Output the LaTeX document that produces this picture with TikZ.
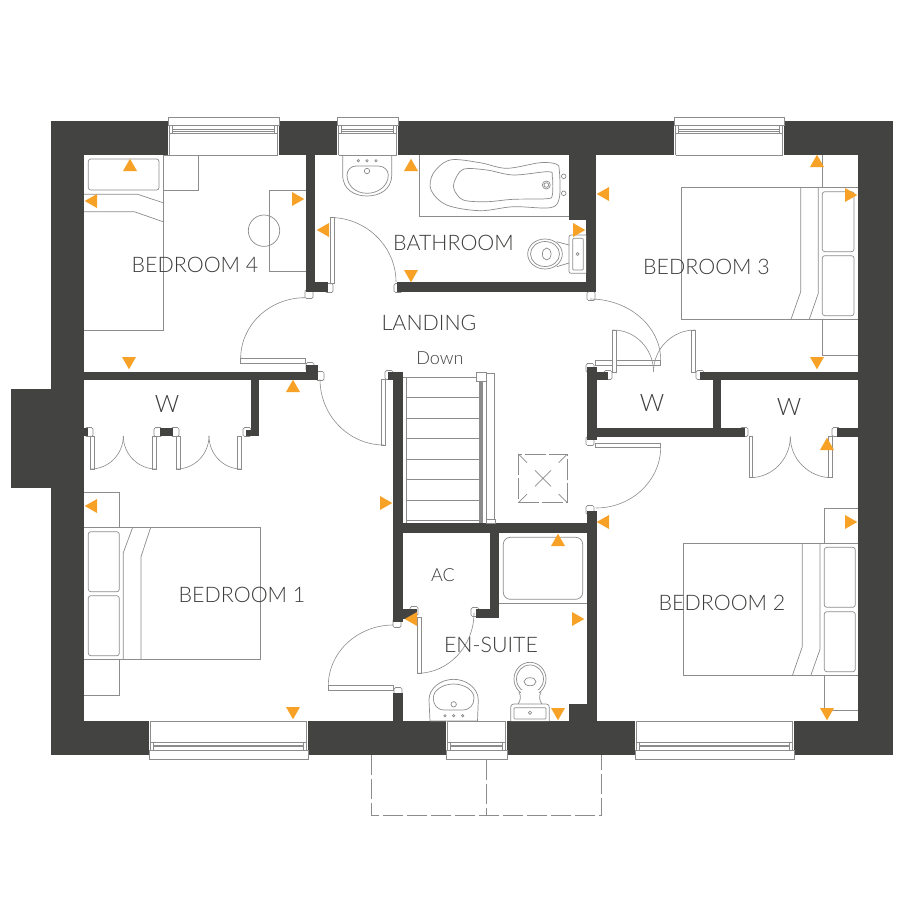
\documentclass[tikz,border=0pt]{standalone}
\usepackage{fontspec}
\setmainfont{Lato}[UprightFont=* Light]
\definecolor{wallgrey}{HTML}{434342}
\definecolor{linegrey}{HTML}{8C8C8C}
\definecolor{textgrey}{HTML}{3C3C3B}
\definecolor{sensororange}{HTML}{F7A226}
\tikzset{
  wall/.style={fill=wallgrey},
  fitting/.style={draw=linegrey,line width=0.7pt},
  leaf/.style={draw=linegrey,line width=0.7pt,fill=white},
  swingline/.style={draw=linegrey,line width=0.6pt},
  roomlabel/.style={text=textgrey,font=\fontsize{21.4}{24}\selectfont,inner sep=0pt},
  smalllabel/.style={text=textgrey,font=\fontsize{18}{21}\selectfont,inner sep=0pt},
  wardlabel/.style={text=textgrey,font=\fontsize{24}{27}\selectfont,inner sep=0pt},
}
% door swing: starts vertically at #1,#2 and ends horizontally at #3,#4
\newcommand{\swing}[4]{\draw[swingline] (#1,#2) .. controls ({#1},{#2+.55*(#4-#2)}) and ({#3-.55*(#3-#1)},{#4}) .. (#3,#4);}
% window: #1,#2 jambs, #3 inner face, #4 outward sign
\newcommand{\glazing}[4]{
\fill[white] (#1,#3) rectangle (#2,{#3+#4*38});
\draw[fitting] (#1+1.5,#3) -- (#1+1.5,{#3+#4*29.5});
\draw[fitting] (#2-1.5,#3) -- (#2-1.5,{#3+#4*29.5});
\draw[fitting] (#1+1.5,#3) -- (#2-1.5,#3);
\draw[fitting] (#1,{#3+#4*29.5}) rectangle (#2,{#3+#4*38});
\draw[fitting] (#1+1.5,{#3+#4*21.5}) rectangle (#2-1.5,{#3+#4*29.5});
\draw[fitting] (#1+4.5,{#3+#4*21.5}) -- (#1+4.5,{#3+#4*29.5});
\draw[fitting] (#2-4.5,{#3+#4*21.5}) -- (#2-4.5,{#3+#4*29.5});
\draw[fitting] (#1+4.5,{#3+#4*24}) -- (#2-4.5,{#3+#4*24});
\draw[fitting] (#1+4.5,{#3+#4*25.5}) -- (#2-4.5,{#3+#4*25.5});
}
\begin{document}
\begin{tikzpicture}[x=1pt,y=-1pt]
\useasboundingbox (0,0) rectangle (900,900);
\fill[white] (0,0) rectangle (900,900);
% shell
\fill[wall] (51,121) rectangle (893,755);
\fill[wall] (11,388.5) rectangle (51,487.5);
\fill[white] (84,155) rectangle (858,721);
% door frames
\foreach \x/\y in {309/294,329/288,310/367,320/376,398/288,591/296,389/375,590/368,590/441,590/510,
  397/623,414/611,475/612,398/692,608/375,700/375,744/432,836/432,
  89/432,158/432,175/432,247/432}
  \draw[leaf,rounded corners=1.5pt] (\x-4,\y-4.5) rectangle (\x+4,\y+4.5);
% partitions
\foreach \xa/\ya/\xb/\yb in {305.7/155/315/292,305.7/282/328/292,84/372/318/380,305.7/365/318/380,
  250.7/380/259.3/436,245.7/429.5/259.3/436,396.7/282/596/292,586/155/596/292,568.7/155/586/220,
  393.3/372/403.3/622,388/372/393.3/380,586.7/367/596.7/440,596/372/608/380,586.7/428/745/437,
  700/372/858/380,712.7/380/721/428,836.7/428/858/437,393/523.3/587/532.7,586.7/511/596.5/721,
  393/609/417/619,490/532/499.3/618,476/609/499.3/618,393/693/403/721,569/704/587/721,
  160/428/172.7/436,84/428/88/436}
  \fill[wall] (\xa,\ya) rectangle (\xb,\yb);
% windows
\glazing{168}{279}{155}{-1}
\glazing{337}{398}{155}{-1}
\glazing{674}{784}{155}{-1}
\glazing{149}{308}{721}{1}
\glazing{446}{507}{721}{1}
\glazing{635}{794}{721}{1}
% door leaves and swings
\foreach \xa/\ya/\xb/\yb in {240.3/358.3/305.7/363.3,330/217.5/334/283,381.7/379.3/385.7/445,
  595/360/660.7/365,612.7/330/616.5/372,691.7/330/695.7/372,749.3/436.7/752.7/477.7,828.7/436.7/832/477.7,
  90/436/94/469,152.7/436/156.7/469,176/436/180/469,237.7/436/241.7/469,595/443.3/660.7/447.3,
  328.3/685.7/393.3/690,417.3/617.3/421.3/673.3}
  \draw[leaf] (\xa,\ya) rectangle (\xb,\yb);
\swing{240.7}{358.3}{305}{297.7}
\swing{396}{282}{330}{217.5}
\swing{320}{379.3}{384}{445}
\swing{660.7}{360}{590}{299}
\swing{653.5}{371.7}{613.3}{330}
\swing{653.5}{371.7}{695}{330}
\swing{790.3}{436.7}{750}{477.7}
\swing{790.3}{436.7}{831.7}{477.7}
\swing{123.3}{436}{90.7}{469}
\swing{123.3}{436}{156}{469}
\swing{209}{436}{176.7}{469}
\swing{209}{436}{241}{469}
\swing{660.7}{447}{596}{508}
\swing{328.3}{685.7}{393.3}{625}
\swing{474}{613}{417.3}{673.3}
% stairs
\draw[fitting] (403.3,377.3) -- (478,377.3);
\draw[fitting] (406.7,377.3) -- (406.7,523);
\foreach \y in {397.7,418.3,438.7,459,479.3,500,520.7}
  \draw[fitting] (406.7,\y) -- (480,\y);
\fill[linegrey] (479.3,380) rectangle (482.7,523);
\draw[fitting] (486,373.3) rectangle (494,522.7);
\draw[leaf] (476,372.7) rectangle (486,381.7);
\draw[leaf] (486.7,519.3) rectangle (495.3,523.3);
% hatch
\draw[fitting,dash pattern=on 21pt off 3pt] (518.3,454) rectangle (567.3,502.7);
\draw[fitting] (518.3,454) -- (527,462.7) (567.3,454) -- (558.6,462.7) (518.3,502.7) -- (527,494) (567.3,502.7) -- (558.6,494);
\draw[fitting] (535,470.3) -- (551,486.3) (551,470.3) -- (535,486.3);
% bedroom 4 furniture
\draw[fitting,rounded corners=2.5pt] (88.3,159) rectangle (159,190);
\draw[fitting] (163,155) -- (163,330.7) -- (84,330.7);
\draw[fitting] (163,155) rectangle (198.3,190);
\draw[fitting] (84,194.3) -- (137.7,194.3) -- (163,202.7);
\draw[fitting] (84,211.7) -- (134.3,211.7) -- (163,221.7);
\draw[fitting] (305.7,190) -- (269.3,190) -- (269.3,271.3) -- (305.7,271.3);
\draw[fitting] (264,230.7) circle[radius=15.7];
% bedroom 3 furniture
\draw[fitting] (858,187.3) -- (681.7,187.3) -- (681.7,319.3) -- (858,319.3);
\draw[fitting] (800.7,187.3) -- (800.7,291.7) -- (791,319.3);
\draw[fitting] (818.3,187.3) -- (818.3,293.3) -- (809.3,319.3);
\draw[fitting,rounded corners=2.5pt] (822.3,191.7) rectangle (854,251.7);
\draw[fitting,rounded corners=2.5pt] (822.3,255.7) rectangle (854,315.7);
\draw[fitting] (822.3,155) -- (822.3,187.3);
\draw[fitting] (822.3,319.3) -- (822.3,355) -- (858,355);
% bedroom 1 furniture
\draw[fitting] (84,527.3) -- (260,527.3) -- (260,659.7) -- (84,659.7);
\draw[fitting] (132.7,527.3) -- (123.3,552.7) -- (123.3,659.7);
\draw[fitting] (150.7,527.3) -- (141,556.7) -- (141,659.7);
\draw[fitting,rounded corners=2.5pt] (88.3,531.7) rectangle (119.3,591.7);
\draw[fitting,rounded corners=2.5pt] (88.3,595.7) rectangle (119.3,655.7);
\draw[fitting] (84,492.3) -- (119.3,492.3) -- (119.3,527.3);
\draw[fitting] (119.3,659.7) -- (119.3,695) -- (84,695);
% bedroom 2 furniture
\draw[fitting] (858,543.3) -- (683.3,543.3) -- (683.3,675.7) -- (858,675.7);
\draw[fitting] (802.3,543.3) -- (802.3,646.7) -- (792.3,675.7);
\draw[fitting] (820,543.3) -- (820,649.3) -- (810.7,675.7);
\draw[fitting,rounded corners=2.5pt] (824.3,547.3) rectangle (855.3,607.3);
\draw[fitting,rounded corners=2.5pt] (824.3,611.7) rectangle (855.3,671.7);
\draw[fitting] (824.3,543.3) -- (824.3,508.3) -- (858,508.3);
\draw[fitting] (824.3,675.7) -- (824.3,710.7) -- (858,710.7);
% bathroom fittings
\draw[fitting] (419.3,155) -- (419.3,216) -- (568.7,216);
\draw[fitting] plot[smooth cycle,tension=.55] coordinates {(433.3,173.3) (450,160) (480,162.7) (506.7,168.3) (540,162.7) (556,164) (559.3,170) (559.3,198) (550,207.7) (513.3,206.7) (480,210.7) (446.7,205) (431,190)};
\draw[fitting] plot[smooth cycle,tension=.55] coordinates {(454.3,181.7) (463.3,169.3) (486.7,170) (513.3,175) (548.3,171.7) (552.3,176.7) (552.3,195) (546.7,198.7) (513.3,199.3) (486.7,201.7) (463.3,200) (454.3,190)};
\draw[fitting] (546.3,185) circle[radius=4] (546.3,185) circle[radius=2.3];
\draw[fitting] (563.7,176.3) circle[radius=2.3] (563.7,193.3) circle[radius=2.3];
\draw[fitting] (342.7,155) -- (342.7,175) .. controls (342.7,190) and (355,196) .. (367,196) .. controls (379,196) and (391.7,190) .. (391.7,175) -- (391.7,155);
\draw[fitting] (347,175) .. controls (347,170) and (351,166) .. (356,166) -- (378,166) .. controls (384,166) and (388.3,170) .. (388.3,175) .. controls (388.3,186) and (378,193.3) .. (367,193.3) .. controls (356,193.3) and (347,186) .. (347,175);
\draw[fitting] (367,171) circle[radius=2.7];
\foreach \x in {358.3,367,376}
  \draw[fitting] (\x,160.7) circle[radius=1.2];
\draw[leaf,rounded corners=2pt] (586,235) -- (569,235) -- (569,273.3) -- (586,273.3);
\draw[fitting,rounded corners=1pt] (572.7,238.3) rectangle (583.3,270);
\draw[fitting] (577.7,254) circle[radius=1.5];
\draw[fitting] (545,254) ellipse[x radius=17.3,y radius=15];
\draw[fitting] (545,254) ellipse[x radius=14.5,y radius=12.5];
\draw[fitting] (546.7,254) ellipse[x radius=4.3,y radius=6];
\draw[fitting] (556.7,241.7) -- (569,245) (556.7,266.7) -- (569,263);
% en-suite fittings
\draw[fitting] (499.3,603) -- (587,603);
\draw[fitting,rounded corners=7pt] (503.3,537.3) rectangle (582.7,599.3);
\draw[fitting] (430,721) -- (429,700) .. controls (429,688) and (441,679.3) .. (453.7,679.3) .. controls (466,679.3) and (478.3,688) .. (478.3,700) -- (477.5,721) -- cycle;
\draw[fitting] (433.3,698) .. controls (433.3,690) and (443,684) .. (453.7,684) .. controls (464,684) and (474,690) .. (474,698) .. controls (474,705) and (470,710) .. (462,710) -- (445,710) .. controls (437,710) and (433.3,705) .. (433.3,698);
\draw[fitting] (453.7,704.3) circle[radius=2.7];
\foreach \x in {445,453.7,462.7}
  \draw[fitting] (\x,715.7) circle[radius=1.2];
\draw[fitting] (530,679) ellipse[x radius=16,y radius=16.7];
\draw[fitting] (530,679) ellipse[x radius=13.5,y radius=14];
\draw[fitting] (530,681.7) ellipse[x radius=6,y radius=4];
\fill[white] (521,690) rectangle (539,704);
\draw[fitting] (519,692) .. controls (521,696) and (521,700) .. (518,704);
\draw[fitting] (541,692) .. controls (539,696) and (539,700) .. (542,704);
\draw[leaf,rounded corners=3pt] (510.7,721) -- (510.7,704) -- (549.3,704) -- (549.3,721);
\draw[fitting,rounded corners=1pt] (514,707.7) rectangle (546,719);
\draw[fitting] (530,712.7) circle[radius=1.7];
% porch
\draw[draw=linegrey,line width=0.7pt,dash pattern=on 20pt off 4pt] (371.7,755) -- (371.7,815.7) -- (601,815.7) -- (601,755);
\draw[draw=linegrey,line width=0.7pt,dash pattern=on 20pt off 4pt] (486.3,760) -- (486.3,815.7);
% labels
\node[roomlabel] (bedfour) at (195,265) {BEDROOM 4};
\node[roomlabel] (bathroom) at (453.5,243) {BATHROOM};
\node[roomlabel] (landing) at (429,323) {LANDING};
\node[smalllabel] (down) at (440,358) {Down};
\node[roomlabel] (bedthree) at (706.5,267) {BEDROOM 3};
\node[wardlabel] (wardone) at (167,404) {W};
\node[wardlabel] (wardthree) at (652,403) {W};
\node[wardlabel] (wardtwo) at (789,407) {W};
\node[roomlabel] (bedone) at (242,595) {BEDROOM 1};
\node[smalllabel] (cupboard) at (443,575) {AC};
\node[roomlabel] (ensuite) at (491,645) {EN-SUITE};
\node[roomlabel] (bedtwo) at (722,603) {BEDROOM 2};
% sensors
\foreach \x/\y/\r in {130/165/0,91/201/90,298/199/-90,323/230/90,411/165/0,411/276/180,579/230/-90,
  603/194/90,817/161/0,851/195/-90,817/363/180,129/363/180,293/386/0,386/503/-90,558/540/0,603/522/90,
  827/444/0,851/522/-90,827/714/180,293/713/180,558/714/180,578/619/-90,411/619/90,91/506/90}
  \fill[sensororange,shift={(\x,\y)},rotate=\r] (-7,6) -- (7,6) -- (0,-6.3) -- cycle;
\end{tikzpicture}
\end{document}
